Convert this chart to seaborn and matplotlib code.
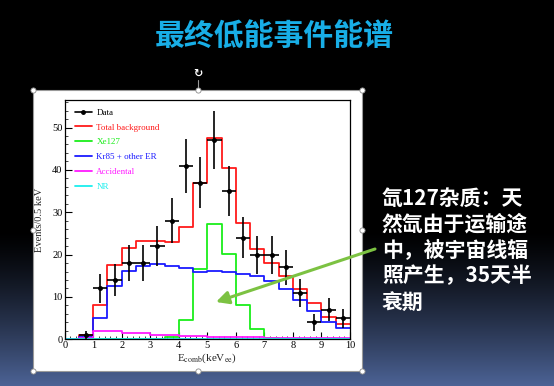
import numpy as np
import pandas as pd
import matplotlib
matplotlib.use("Agg")
import matplotlib.pyplot as plt
from matplotlib.patches import Rectangle, FancyArrowPatch
from matplotlib.lines import Line2D
from matplotlib.ticker import MultipleLocator
import seaborn as sns

# histogram binning: 0.5 keV bins from 0 to 10
edges = np.arange(0, 10.01, 0.5)
centers = (edges[:-1] + edges[1:]) / 2

data_counts = [0, 1, 12, 14, 18, 18, 22, 28, 41, 37, 47, 35, 24, 20, 20, 17, 11, 4, 7, 5]
total_bkg = [0, 1.0, 8.2, 17.6, 21.6, 23.1, 23.2, 23.0, 26.4, 37.0, 47.6, 40.4,
             27.4, 21.3, 18.1, 14.9, 11.9, 8.5, 5.3, 3.5]
xe127 = [0, 0, 0, 0, 0, 0, 0, 0.5, 4.6, 16.6, 27.2, 20.1, 8.0, 2.5, 0.4, 0.1, 0, 0, 0, 0]
kr85_er = [0, 0.5, 5.0, 12.5, 16.1, 17.2, 17.8, 17.3, 16.9, 16.0, 16.1, 16.0,
           15.4, 15.0, 13.8, 11.8, 9.3, 6.6, 4.2, 2.7]
accidental = [0, 0.3, 1.9, 2.0, 1.6, 1.4, 1.1, 0.9, 0.8, 0.7, 0.6, 0.6,
              0.5, 0.5, 0.4, 0.4, 0.3, 0.3, 0.2, 0.2]
nr = [0.05] * 20

series = [
    ("Total background", total_bkg, "#ff1a1a"),
    ("Xe127", xe127, "#1aee1a"),
    ("Kr85 + other ER", kr85_er, "#1a1aff"),
    ("Accidental", accidental, "#ff1aff"),
    ("NR", nr, "#1aeeee"),
]

title = "最终低能事件能谱"
note_lines = ["氙127杂质：天", "然氙由于运输途", "中，被宇宙线辐", "照产生，35天半", "衰期"]

W, H = 554, 386
sns.set_style("ticks", {"xtick.direction": "in", "ytick.direction": "in"})
plt.rcParams["font.family"] = ["Liberation Serif", "DejaVu Serif"]
plt.rcParams["mathtext.fontset"] = "stix"
cjk = ["Noto Sans CJK SC", "DejaVu Sans"]

fig = plt.figure(figsize=(W / 100, H / 100), dpi=100)

# slide background (pixel coordinates)
bg = fig.add_axes([0, 0, 1, 1])
bg.set_xlim(0, W)
bg.set_ylim(H, 0)
bg.axis("off")
yy = np.arange(H)
t = np.clip((yy - 230) / (H - 230), 0, 1) ** 1.3
grad = t[:, None, None] * np.array([0.30, 0.39, 0.59])[None, None, :]
grad = np.repeat(grad, 2, axis=1)
bg.imshow(grad, extent=(0, W, H, 0), aspect="auto", zorder=0)
bg.add_patch(Rectangle((33, 90), 329, 281, facecolor="white", edgecolor="#9a9a9a",
                       linewidth=0.8, zorder=1))

bg.text(274, 37, title, color="#18aee6", fontsize=21.5, fontweight="bold",
        family=cjk, ha="center", va="center")
for i, line in enumerate(note_lines):
    bg.text(382, 198 + i * 26, line, color="white", fontsize=15, fontweight="bold",
            family=cjk, ha="left", va="center")

# ROOT plot
ax = fig.add_axes([64.7 / W, 1 - 339.3 / H, (350 - 64.7) / W, (339.3 - 100) / H])
ax.set_facecolor("white")
for label, vals, color in series:
    df = pd.DataFrame({"energy": centers, "events": vals})
    sns.histplot(data=df, x="energy", weights="events", binwidth=0.5, binrange=(0, 10),
                 element="step", fill=False, color=color, linewidth=1.3, ax=ax)

dc = np.array(data_counts, dtype=float)
mask = dc > 0
ax.errorbar(centers[mask], dc[mask], xerr=0.25, yerr=np.sqrt(dc[mask]), fmt="o",
            color="black", markersize=2.5, elinewidth=1.2, capsize=0, zorder=5)

ax.set_xlim(0, 10)
ax.set_ylim(0, 56.5)
ax.xaxis.set_major_locator(MultipleLocator(1))
ax.xaxis.set_minor_locator(MultipleLocator(0.2))
ax.yaxis.set_major_locator(MultipleLocator(10))
ax.yaxis.set_minor_locator(MultipleLocator(2))
ax.tick_params(which="major", length=5, width=0.8, labelsize=7.5, pad=1.5, colors="black")
ax.tick_params(which="minor", length=2.5, width=0.6)
for s in ax.spines.values():
    s.set_linewidth(0.9)
    s.set_color("black")
ax.set_xlabel(r"E$_{\mathrm{comb}}$(keV$_{\mathrm{ee}}$)", fontsize=8, labelpad=1)
ax.set_ylabel("Events/0.5 keV", fontsize=7.5, labelpad=6)

handles = [Line2D([], [], color="black", marker="o", markersize=2.5, linewidth=1.2)]
handles += [Line2D([], [], color=c, linewidth=1.3) for _, _, c in series]
labels = ["Data"] + [s[0] for s in series]
leg = ax.legend(handles, labels, loc="upper left", bbox_to_anchor=(0.035, 0.965),
                frameon=False, fontsize=6.5, labelspacing=0.72, handlelength=1.9,
                handletextpad=0.5, borderpad=0, borderaxespad=0, labelcolor="linecolor")

# overlay: arrow and selection handles
ov = fig.add_axes([0, 0, 1, 1])
ov.set_xlim(0, W)
ov.set_ylim(H, 0)
ov.axis("off")
ov.patch.set_alpha(0)
ov.add_patch(FancyArrowPatch((375, 249), (216, 302), arrowstyle="-|>,head_length=7.5,head_width=3.8",
                             color="#7cc242", linewidth=2.2, mutation_scale=1, shrinkA=0, shrinkB=0))
ov.plot([198, 198], [80, 90], color="#9a9a9a", linewidth=0.8)
ov.text(198, 74, "↻", color="white", fontsize=8, ha="center", va="center",
        family="DejaVu Sans", fontweight="bold")
hx = [33, 198, 362, 33, 362, 33, 198, 362]
hy = [90, 90, 90, 230, 230, 371, 371, 371]
ov.scatter(hx, hy, s=14, facecolor="white", edgecolor="#8a8a8a", linewidth=0.6, zorder=5)

fig.savefig("out.png", dpi=100)
